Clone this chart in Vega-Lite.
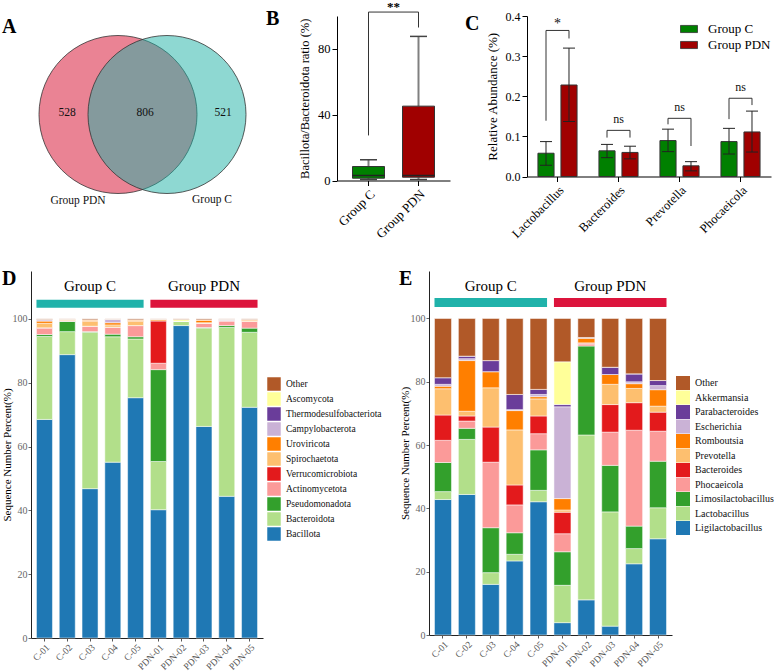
{
  "$schema": "https://vega.github.io/schema/vega-lite/v6.json",
  "padding": {"left": 1, "top": 0, "right": 0, "bottom": 0},
  "background": "white",
  "config": {
    "font": "Liberation Serif",
    "view": {"stroke": null},
    "axis": {"labelFont": "Liberation Serif", "titleFont": "Liberation Serif", "grid": false, "domainColor": "#000", "tickColor": "#000", "labelColor": "#000", "titleColor": "#000", "titleFontWeight": "normal"},
    "legend": {"labelFont": "Liberation Serif", "titleFont": "Liberation Serif"},
    "title": {"font": "Liberation Serif"},
    "text": {"font": "Liberation Serif"}
  },
  "resolve": {"scale": {"color": "independent", "fill": "independent"}, "legend": {"color": "independent"}},
  "spacing": 28,
  "vconcat": [
    {
      "hconcat": [
        {
          "width": 229, "height": 190,
          "title": {"text": "A", "anchor": "start", "frame": "group", "offset": 0, "dx": -29, "dy": 37, "baseline": "alphabetic", "fontSize": 20, "fontWeight": "bold", "color": "#000"},
          "data": {"values": [
            {"kind": "c", "set": "Group PDN", "x": 87, "y": 98.5},
            {"kind": "c", "set": "Group C", "x": 136, "y": 98.5},
            {"kind": "t", "x": 36, "y": 97.2, "txt": "528"},
            {"kind": "t", "x": 114, "y": 97.2, "txt": "806"},
            {"kind": "t", "x": 192, "y": 97.2, "txt": "521"},
            {"kind": "t", "x": 47, "y": 184.5, "txt": "Group PDN"},
            {"kind": "t", "x": 181, "y": 183.5, "txt": "Group C"}
          ]},
          "encoding": {
            "x": {"field": "x", "type": "quantitative", "scale": {"domain": [0, 229], "nice": false, "zero": false}, "axis": null},
            "y": {"field": "y", "type": "quantitative", "scale": {"domain": [0, 190], "nice": false, "zero": false, "reverse": true}, "axis": null}
          },
          "layer": [
            {
              "transform": [{"filter": "datum.kind == 'c'"}],
              "mark": {"type": "point", "shape": "circle", "filled": true, "size": 24964, "opacity": 1, "fillOpacity": 0.5, "stroke": "#333", "strokeWidth": 0.8, "strokeOpacity": 1},
              "encoding": {"fill": {"field": "set", "type": "nominal", "scale": {"domain": ["Group PDN", "Group C"], "range": ["#D50729", "#1DB1A5"]}, "legend": null}}
            },
            {
              "transform": [{"filter": "datum.kind == 't'"}],
              "mark": {"type": "text", "fontSize": 11.5, "baseline": "middle", "align": "center", "color": "#111"},
              "encoding": {"text": {"field": "txt"}}
            }
          ]
        },
        {
          "width": 113, "height": 164.5,
          "title": {"text": "B", "anchor": "start", "frame": "group", "offset": 0, "dx": -71, "dy": 44, "baseline": "alphabetic", "fontSize": 20, "fontWeight": "bold", "color": "#000"},
          "data": {"values": [
            {"g": "Group C", "mn": 0.6, "q1": 1.4, "med": 3.0, "q3": 8.5, "mx": 12.6},
            {"g": "Group PDN", "mn": 0.6, "q1": 2.0, "med": 3.0, "q3": 45.2, "mx": 87.6}
          ]},
          "encoding": {
            "x": {"field": "g", "type": "nominal", "sort": ["Group C", "Group PDN"], "scale": {"paddingInner": 0.36, "paddingOuter": 0.31}, "axis": {"title": null, "labelAngle": -45, "labelFontSize": 13, "tickSize": 5, "labelPadding": 2}}
          },
          "layer": [
            {
              "mark": {"type": "rule", "color": "#808080", "strokeWidth": 2},
              "encoding": {
                "y": {"field": "q3", "type": "quantitative", "title": "Bacillota/Bacteroidota ratio (%)", "scale": {"domain": [0, 100], "nice": false}, "axis": {"values": [0, 20, 40, 60, 80, 100], "labelFontSize": 12.5, "titleFontSize": 12.5, "tickSize": 5, "titlePadding": 6}},
                "y2": {"field": "mx"}
              }
            },
            {
              "mark": {"type": "rule", "color": "#808080", "strokeWidth": 2},
              "encoding": {"y": {"field": "mn", "type": "quantitative", "title": "Bacillota/Bacteroidota ratio (%)"}, "y2": {"field": "q1"}}
            },
            {
              "mark": {"type": "tick", "color": "#444", "thickness": 1.5, "size": 17, "opacity": 1},
              "encoding": {"y": {"field": "mx", "type": "quantitative", "title": "Bacillota/Bacteroidota ratio (%)"}}
            },
            {
              "mark": {"type": "tick", "color": "#444", "thickness": 1.5, "size": 17, "opacity": 1},
              "encoding": {"y": {"field": "mn", "type": "quantitative", "title": "Bacillota/Bacteroidota ratio (%)"}}
            },
            {
              "mark": {"type": "bar", "stroke": "#333", "strokeWidth": 1},
              "encoding": {
                "y": {"field": "q1", "type": "quantitative", "title": "Bacillota/Bacteroidota ratio (%)"},
                "y2": {"field": "q3"},
                "color": {"field": "g", "type": "nominal", "scale": {"domain": ["Group C", "Group PDN"], "range": ["#008000", "#A00000"]}, "legend": null}
              }
            },
            {
              "mark": {"type": "tick", "color": "#222", "thickness": 1.5, "size": 32, "opacity": 1},
              "encoding": {"y": {"field": "med", "type": "quantitative", "title": "Bacillota/Bacteroidota ratio (%)"}}
            },
            {
              "data": {"values": [
                {"g": "Group C", "a": 27.4, "b": 102.4},
                {"g": "Group PDN", "a": 93.0, "b": 102.4}
              ]},
              "mark": {"type": "rule", "color": "#333", "strokeWidth": 1},
              "encoding": {"y": {"field": "a", "type": "quantitative", "title": "Bacillota/Bacteroidota ratio (%)"}, "y2": {"field": "b"}}
            },
            {
              "data": {"values": [{"from": "Group C", "to": "Group PDN", "yy": 102.4}]},
              "mark": {"type": "rule", "color": "#333", "strokeWidth": 1},
              "encoding": {
                "x": {"field": "from", "type": "nominal"},
                "x2": {"field": "to"},
                "y": {"field": "yy", "type": "quantitative", "title": "Bacillota/Bacteroidota ratio (%)"}
              }
            },
            {
              "data": {"values": [{"from": "Group C", "yy": 103.2, "lab": "**"}]},
              "mark": {"type": "text", "fontSize": 13, "fontWeight": "bold", "dx": 25, "baseline": "alphabetic", "align": "center", "color": "#000"},
              "encoding": {
                "x": {"field": "from", "type": "nominal"},
                "y": {"field": "yy", "type": "quantitative", "title": "Bacillota/Bacteroidota ratio (%)"},
                "text": {"field": "lab"}
              }
            }
          ]
        },
        {
          "width": 244, "height": 160.5,
          "title": {"text": "C", "anchor": "start", "frame": "group", "offset": 0, "dx": -62, "dy": 40, "baseline": "alphabetic", "fontSize": 20, "fontWeight": "bold", "color": "#000"},
          "encoding": {
            "x": {"field": "genus", "type": "nominal", "sort": ["Lactobacillus", "Bacteroides", "Prevotella", "Phocaeicola"], "scale": {"paddingInner": 0.246, "paddingOuter": 0.123}, "axis": {"title": null, "labelAngle": -45, "labelFontSize": 12.5, "tickSize": 5, "labelPadding": 2}}
          },
          "layer": [
            {
              "data": {"name": "cbars", "values": [
                {"genus": "Lactobacillus", "group": "Group C", "mean": 0.058, "lo": 0.028, "hi": 0.087},
                {"genus": "Lactobacillus", "group": "Group PDN", "mean": 0.228, "lo": 0.137, "hi": 0.320},
                {"genus": "Bacteroides", "group": "Group C", "mean": 0.064, "lo": 0.047, "hi": 0.080},
                {"genus": "Bacteroides", "group": "Group PDN", "mean": 0.060, "lo": 0.044, "hi": 0.0755},
                {"genus": "Prevotella", "group": "Group C", "mean": 0.0896, "lo": 0.062, "hi": 0.118},
                {"genus": "Prevotella", "group": "Group PDN", "mean": 0.0266, "lo": 0.014, "hi": 0.037},
                {"genus": "Phocaeicola", "group": "Group C", "mean": 0.087, "lo": 0.056, "hi": 0.120},
                {"genus": "Phocaeicola", "group": "Group PDN", "mean": 0.111, "lo": 0.061, "hi": 0.163}
              ]},
              "mark": {"type": "bar", "stroke": "#333", "strokeWidth": 1},
              "encoding": {
                "xOffset": {"field": "group", "type": "nominal", "sort": ["Group C", "Group PDN"], "scale": {"paddingInner": 0.3, "paddingOuter": 0.15}},
                "y": {"field": "mean", "type": "quantitative", "title": "Relative Abundance (%)", "scale": {"domain": [0, 0.4], "nice": false}, "axis": {"values": [0, 0.1, 0.2, 0.3, 0.4], "format": ".1f", "labelFontSize": 12, "titleFontSize": 13, "tickSize": 5, "titlePadding": 6}},
                "color": {"field": "group", "type": "nominal", "scale": {"domain": ["Group C", "Group PDN"], "range": ["#008000", "#A00000"]}, "legend": {"orient": "none", "legendX": 153, "legendY": 4, "title": null, "symbolType": "M-1,-0.42H1V0.42H-1Z", "symbolSize": 289, "symbolStrokeColor": "#333", "symbolStrokeWidth": 0.8, "rowPadding": -1, "labelFontSize": 13, "labelOffset": 10, "labelColor": "#000", "padding": 0}}
              }
            },
            {
              "data": {"name": "cbars"},
              "mark": {"type": "rule", "color": "#222", "strokeWidth": 1},
              "encoding": {
                "xOffset": {"field": "group", "type": "nominal", "sort": ["Group C", "Group PDN"]},
                "y": {"field": "lo", "type": "quantitative", "title": "Relative Abundance (%)"},
                "y2": {"field": "hi"}
              }
            },
            {
              "data": {"name": "cbars"},
              "mark": {"type": "tick", "color": "#222", "thickness": 1, "size": 12, "opacity": 1},
              "encoding": {
                "xOffset": {"field": "group", "type": "nominal", "sort": ["Group C", "Group PDN"]},
                "y": {"field": "lo", "type": "quantitative", "title": "Relative Abundance (%)"}
              }
            },
            {
              "data": {"name": "cbars"},
              "mark": {"type": "tick", "color": "#222", "thickness": 1, "size": 12, "opacity": 1},
              "encoding": {
                "xOffset": {"field": "group", "type": "nominal", "sort": ["Group C", "Group PDN"]},
                "y": {"field": "hi", "type": "quantitative", "title": "Relative Abundance (%)"}
              }
            },
            {
              "data": {"values": [
                {"genus": "Lactobacillus", "group": "Group C", "a": 0.139, "b": 0.364},
                {"genus": "Lactobacillus", "group": "Group PDN", "a": 0.344, "b": 0.364},
                {"genus": "Bacteroides", "group": "Group C", "a": 0.097, "b": 0.115},
                {"genus": "Bacteroides", "group": "Group PDN", "a": 0.097, "b": 0.115},
                {"genus": "Prevotella", "group": "Group C", "a": 0.130, "b": 0.145},
                {"genus": "Prevotella", "group": "Group PDN", "a": 0.076, "b": 0.145},
                {"genus": "Phocaeicola", "group": "Group C", "a": 0.143, "b": 0.195},
                {"genus": "Phocaeicola", "group": "Group PDN", "a": 0.178, "b": 0.195}
              ]},
              "mark": {"type": "rule", "color": "#333", "strokeWidth": 1},
              "encoding": {
                "xOffset": {"field": "group", "type": "nominal", "sort": ["Group C", "Group PDN"]},
                "y": {"field": "a", "type": "quantitative", "title": "Relative Abundance (%)"},
                "y2": {"field": "b"}
              }
            },
            {
              "data": {"name": "sig", "values": [
                {"genus": "Lactobacillus", "top": 0.364, "ty": 0.371, "lab": "*"},
                {"genus": "Bacteroides", "top": 0.115, "ty": 0.133, "lab": "ns"},
                {"genus": "Prevotella", "top": 0.145, "ty": 0.163, "lab": "ns"},
                {"genus": "Phocaeicola", "top": 0.195, "ty": 0.2125, "lab": "ns"}
              ]},
              "mark": {"type": "tick", "color": "#333", "thickness": 1, "size": 23, "opacity": 1},
              "encoding": {"y": {"field": "top", "type": "quantitative", "title": "Relative Abundance (%)"}}
            },
            {
              "data": {"name": "sig"},
              "mark": {"type": "text", "fontSize": 12, "baseline": "alphabetic", "align": "center", "color": "#111"},
              "encoding": {
                "y": {"field": "ty", "type": "quantitative", "title": "Relative Abundance (%)"},
                "text": {"field": "lab"},
                "size": {"condition": {"test": "datum.lab == '*'", "value": 14}, "value": 12}
              }
            }
          ]
        }
      ],
      "spacing": 77,
      "bounds": "flush",
      "resolve": {"scale": {"color": "independent", "fill": "independent"}, "legend": {"color": "independent"}}
    },
    {
      "hconcat": [
        {
          "width": 232, "height": 367,
          "title": {"text": "D", "anchor": "start", "frame": "group", "offset": 0, "dx": -29, "dy": 34, "baseline": "alphabetic", "fontSize": 20, "fontWeight": "bold", "color": "#000"},
          "encoding": {
            "x": {"field": "s", "type": "nominal", "sort": ["C-01", "C-02", "C-03", "C-04", "C-05", "PDN-01", "PDN-02", "PDN-03", "PDN-04", "PDN-05"], "scale": {"paddingInner": 0.298, "paddingOuter": 0.24}, "axis": {"title": null, "labelAngle": -45, "labelFontSize": 9.5, "labelColor": "#555", "tickColor": "#555", "tickSize": 3, "domainColor": "#222", "labelPadding": 1}}
          },
          "layer": [
            {
              "data": {"values": [
                {"s": "C-01", "Bacillota": 68.5, "Bacteroidota": 26.0, "Pseudomonadota": 0.6, "Actinomycetota": 2.0, "Verrucomicrobiota": 0.1, "Spirochaetota": 1.4, "Uroviricota": 0.7, "Campylobacterota": 0.4, "Thermodesulfobacteriota": 0.1, "Ascomycota": 0, "Other": 0.2},
                {"s": "C-02", "Bacillota": 88.8, "Bacteroidota": 7.2, "Pseudomonadota": 3.2, "Actinomycetota": 0.2, "Verrucomicrobiota": 0, "Spirochaetota": 0.2, "Uroviricota": 0.3, "Campylobacterota": 0, "Thermodesulfobacteriota": 0, "Ascomycota": 0, "Other": 0.1},
                {"s": "C-03", "Bacillota": 46.8, "Bacteroidota": 49.0, "Pseudomonadota": 0.2, "Actinomycetota": 1.7, "Verrucomicrobiota": 0, "Spirochaetota": 1.5, "Uroviricota": 0.5, "Campylobacterota": 0, "Thermodesulfobacteriota": 0, "Ascomycota": 0, "Other": 0.3},
                {"s": "C-04", "Bacillota": 55.1, "Bacteroidota": 39.3, "Pseudomonadota": 0.8, "Actinomycetota": 2.2, "Verrucomicrobiota": 0, "Spirochaetota": 0.7, "Uroviricota": 0.7, "Campylobacterota": 1.1, "Thermodesulfobacteriota": 0, "Ascomycota": 0, "Other": 0.1},
                {"s": "C-05", "Bacillota": 75.3, "Bacteroidota": 18.4, "Pseudomonadota": 0.7, "Actinomycetota": 3.5, "Verrucomicrobiota": 0, "Spirochaetota": 1.3, "Uroviricota": 0.5, "Campylobacterota": 0, "Thermodesulfobacteriota": 0, "Ascomycota": 0, "Other": 0.3},
                {"s": "PDN-01", "Bacillota": 40.2, "Bacteroidota": 15.1, "Pseudomonadota": 28.8, "Actinomycetota": 2.0, "Verrucomicrobiota": 13.3, "Spirochaetota": 0, "Uroviricota": 0.5, "Campylobacterota": 0, "Thermodesulfobacteriota": 0, "Ascomycota": 0, "Other": 0.1},
                {"s": "PDN-02", "Bacillota": 97.9, "Bacteroidota": 1.3, "Pseudomonadota": 0, "Actinomycetota": 0.1, "Verrucomicrobiota": 0, "Spirochaetota": 0, "Uroviricota": 0, "Campylobacterota": 0, "Thermodesulfobacteriota": 0, "Ascomycota": 0.5, "Other": 0.2},
                {"s": "PDN-03", "Bacillota": 66.3, "Bacteroidota": 30.8, "Pseudomonadota": 0.2, "Actinomycetota": 1.3, "Verrucomicrobiota": 0, "Spirochaetota": 0.2, "Uroviricota": 0.9, "Campylobacterota": 0, "Thermodesulfobacteriota": 0, "Ascomycota": 0, "Other": 0.3},
                {"s": "PDN-04", "Bacillota": 44.4, "Bacteroidota": 52.9, "Pseudomonadota": 0.6, "Actinomycetota": 1.5, "Verrucomicrobiota": 0, "Spirochaetota": 0, "Uroviricota": 0.1, "Campylobacterota": 0.4, "Thermodesulfobacteriota": 0, "Ascomycota": 0, "Other": 0.1},
                {"s": "PDN-05", "Bacillota": 72.3, "Bacteroidota": 23.5, "Pseudomonadota": 1.3, "Actinomycetota": 2.1, "Verrucomicrobiota": 0, "Spirochaetota": 0.3, "Uroviricota": 0.3, "Campylobacterota": 0, "Thermodesulfobacteriota": 0, "Ascomycota": 0, "Other": 0.2}
              ]},
              "transform": [
                {"fold": ["Bacillota", "Bacteroidota", "Pseudomonadota", "Actinomycetota", "Verrucomicrobiota", "Spirochaetota", "Uroviricota", "Campylobacterota", "Thermodesulfobacteriota", "Ascomycota", "Other"], "as": ["taxon", "pct"]},
                {"calculate": "indexof(['Bacillota','Bacteroidota','Pseudomonadota','Actinomycetota','Verrucomicrobiota','Spirochaetota','Uroviricota','Campylobacterota','Thermodesulfobacteriota','Ascomycota','Other'], datum.taxon)", "as": "rk"}
              ],
              "mark": {"type": "bar", "stroke": "white", "strokeWidth": 0.5},
              "encoding": {
                "y": {"field": "pct", "type": "quantitative", "stack": "zero", "title": "Sequence Number Percent(%)", "scale": {"domain": [0, 115], "nice": false}, "axis": {"values": [0, 20, 40, 60, 80, 100], "labelFontSize": 10, "labelColor": "#666", "tickColor": "#666", "tickSize": 3, "domainColor": "#222", "titleFontSize": 11, "titlePadding": 0, "labelPadding": 1}},
                "color": {"field": "taxon", "type": "nominal", "scale": {"domain": ["Other", "Ascomycota", "Thermodesulfobacteriota", "Campylobacterota", "Uroviricota", "Spirochaetota", "Verrucomicrobiota", "Actinomycetota", "Pseudomonadota", "Bacteroidota", "Bacillota"], "range": ["#B15928", "#FFFF99", "#6A3D9A", "#CAB2D6", "#FF7F00", "#FDBF6F", "#E31A1C", "#FB9A99", "#33A02C", "#B2DF8A", "#1F78B4"]}, "legend": {"orient": "none", "legendX": 236, "legendY": 106, "title": null, "symbolType": "square", "symbolSize": 182, "symbolStrokeWidth": 0, "rowPadding": 1, "labelFontSize": 9.5, "labelOffset": 5, "labelColor": "#111", "padding": 0}},
                "order": {"field": "rk", "type": "quantitative"}
              }
            },
            {
              "data": {"values": [
                {"grp": "Group C", "st": "C-01", "en": "C-05", "mid": "C-03"},
                {"grp": "Group PDN", "st": "PDN-01", "en": "PDN-05", "mid": "PDN-03"}
              ]},
              "layer": [
                {
                  "mark": {"type": "rect"},
                  "encoding": {
                    "x": {"field": "st", "type": "nominal", "bandPosition": 0},
                    "x2": {"field": "en", "bandPosition": 1},
                    "y": {"datum": 103.5, "type": "quantitative"},
                    "y2": {"datum": 106.0},
                    "fill": {"field": "grp", "type": "nominal", "scale": {"domain": ["Group C", "Group PDN"], "range": ["#20B2AA", "#DC143C"]}, "legend": null}
                  }
                },
                {
                  "mark": {"type": "text", "fontSize": 15, "baseline": "alphabetic", "align": "center", "color": "#000"},
                  "encoding": {
                    "x": {"field": "mid", "type": "nominal"},
                    "y": {"datum": 108.8, "type": "quantitative"},
                    "text": {"field": "grp"}
                  }
                }
              ]
            }
          ]
        },
        {
          "width": 243, "height": 364,
          "title": {"text": "E", "anchor": "start", "frame": "group", "offset": 0, "dx": -30, "dy": 34, "baseline": "alphabetic", "fontSize": 20, "fontWeight": "bold", "color": "#000"},
          "encoding": {
            "x": {"field": "s", "type": "nominal", "sort": ["C-01", "C-02", "C-03", "C-04", "C-05", "PDN-01", "PDN-02", "PDN-03", "PDN-04", "PDN-05"], "scale": {"paddingInner": 0.289, "paddingOuter": 0.23}, "axis": {"title": null, "labelAngle": -45, "labelFontSize": 9.5, "labelColor": "#555", "tickColor": "#555", "tickSize": 3, "domainColor": "#222", "labelPadding": 1}}
          },
          "layer": [
            {
              "data": {"values": [
                {"s": "C-01", "Ligilactobacillus": 42.8, "Lactobacillus": 2.5, "Limosilactobacillus": 9.2, "Phocaeicola": 7.0, "Bacteroides": 8.0, "Prevotella": 8.3, "Romboutsia": 0.8, "Escherichia": 0.6, "Parabacteroides": 2.1, "Akkermansia": 0, "Other": 18.7},
                {"s": "C-02", "Ligilactobacillus": 44.4, "Lactobacillus": 17.4, "Limosilactobacillus": 3.5, "Phocaeicola": 2.3, "Bacteroides": 1.6, "Prevotella": 1.5, "Romboutsia": 16.0, "Escherichia": 0.6, "Parabacteroides": 0.8, "Akkermansia": 0, "Other": 11.9},
                {"s": "C-03", "Ligilactobacillus": 16.0, "Lactobacillus": 3.7, "Limosilactobacillus": 14.2, "Phocaeicola": 20.7, "Bacteroides": 11.1, "Prevotella": 12.4, "Romboutsia": 5.1, "Escherichia": 0, "Parabacteroides": 3.5, "Akkermansia": 0, "Other": 13.3},
                {"s": "C-04", "Ligilactobacillus": 23.4, "Lactobacillus": 2.1, "Limosilactobacillus": 6.8, "Phocaeicola": 8.8, "Bacteroides": 6.3, "Prevotella": 17.4, "Romboutsia": 6.1, "Escherichia": 0.3, "Parabacteroides": 4.8, "Akkermansia": 0, "Other": 24.0},
                {"s": "C-05", "Ligilactobacillus": 42.1, "Lactobacillus": 3.6, "Limosilactobacillus": 12.8, "Phocaeicola": 5.1, "Bacteroides": 5.6, "Prevotella": 5.4, "Romboutsia": 0.7, "Escherichia": 0.7, "Parabacteroides": 1.6, "Akkermansia": 0, "Other": 22.4},
                {"s": "PDN-01", "Ligilactobacillus": 3.9, "Lactobacillus": 11.8, "Limosilactobacillus": 10.6, "Phocaeicola": 5.7, "Bacteroides": 6.8, "Prevotella": 0.7, "Romboutsia": 3.6, "Escherichia": 29.0, "Parabacteroides": 0.7, "Akkermansia": 13.5, "Other": 13.7},
                {"s": "PDN-02", "Ligilactobacillus": 11.1, "Lactobacillus": 52.1, "Limosilactobacillus": 28.1, "Phocaeicola": 0.6, "Bacteroides": 0.3, "Prevotella": 0.1, "Romboutsia": 1.5, "Escherichia": 0, "Parabacteroides": 0.2, "Akkermansia": 0, "Other": 6.0},
                {"s": "PDN-03", "Ligilactobacillus": 2.8, "Lactobacillus": 36.1, "Limosilactobacillus": 14.7, "Phocaeicola": 10.5, "Bacteroides": 8.7, "Prevotella": 6.4, "Romboutsia": 3.1, "Escherichia": 0, "Parabacteroides": 2.3, "Akkermansia": 0, "Other": 15.4},
                {"s": "PDN-04", "Ligilactobacillus": 22.5, "Lactobacillus": 4.8, "Limosilactobacillus": 7.1, "Phocaeicola": 30.3, "Bacteroides": 8.7, "Prevotella": 4.5, "Romboutsia": 1.5, "Escherichia": 0.6, "Parabacteroides": 2.5, "Akkermansia": 0, "Other": 17.5},
                {"s": "PDN-05", "Ligilactobacillus": 30.4, "Lactobacillus": 9.8, "Limosilactobacillus": 14.7, "Phocaeicola": 9.5, "Bacteroides": 6.0, "Prevotella": 1.9, "Romboutsia": 5.2, "Escherichia": 1.3, "Parabacteroides": 1.6, "Akkermansia": 0, "Other": 19.6}
              ]},
              "transform": [
                {"fold": ["Ligilactobacillus", "Lactobacillus", "Limosilactobacillus", "Phocaeicola", "Bacteroides", "Prevotella", "Romboutsia", "Escherichia", "Parabacteroides", "Akkermansia", "Other"], "as": ["taxon", "pct"]},
                {"calculate": "indexof(['Ligilactobacillus','Lactobacillus','Limosilactobacillus','Phocaeicola','Bacteroides','Prevotella','Romboutsia','Escherichia','Parabacteroides','Akkermansia','Other'], datum.taxon)", "as": "rk"}
              ],
              "mark": {"type": "bar", "stroke": "white", "strokeWidth": 0.5},
              "encoding": {
                "y": {"field": "pct", "type": "quantitative", "stack": "zero", "title": "Sequence Number Percent(%)", "scale": {"domain": [0, 115], "nice": false}, "axis": {"values": [0, 20, 40, 60, 80, 100], "labelFontSize": 10, "labelColor": "#666", "tickColor": "#666", "tickSize": 3, "domainColor": "#222", "titleFontSize": 11, "titlePadding": 0, "labelPadding": 1}},
                "color": {"field": "taxon", "type": "nominal", "scale": {"domain": ["Other", "Akkermansia", "Parabacteroides", "Escherichia", "Romboutsia", "Prevotella", "Bacteroides", "Phocaeicola", "Limosilactobacillus", "Lactobacillus", "Ligilactobacillus"], "range": ["#B15928", "#FFFF99", "#6A3D9A", "#CAB2D6", "#FF7F00", "#FDBF6F", "#E31A1C", "#FB9A99", "#33A02C", "#B2DF8A", "#1F78B4"]}, "legend": {"orient": "none", "legendX": 247, "legendY": 105, "title": null, "symbolType": "square", "symbolSize": 196, "symbolStrokeWidth": 0, "rowPadding": 0.5, "labelFontSize": 10, "labelOffset": 5, "labelColor": "#111", "padding": 0}},
                "order": {"field": "rk", "type": "quantitative"}
              }
            },
            {
              "data": {"values": [
                {"grp": "Group C", "st": "C-01", "en": "C-05", "mid": "C-03"},
                {"grp": "Group PDN", "st": "PDN-01", "en": "PDN-05", "mid": "PDN-03"}
              ]},
              "layer": [
                {
                  "mark": {"type": "rect"},
                  "encoding": {
                    "x": {"field": "st", "type": "nominal", "bandPosition": 0},
                    "x2": {"field": "en", "bandPosition": 1},
                    "y": {"datum": 103.6, "type": "quantitative"},
                    "y2": {"datum": 106.5},
                    "fill": {"field": "grp", "type": "nominal", "scale": {"domain": ["Group C", "Group PDN"], "range": ["#20B2AA", "#DC143C"]}, "legend": null}
                  }
                },
                {
                  "mark": {"type": "text", "fontSize": 15, "baseline": "alphabetic", "align": "center", "color": "#000"},
                  "encoding": {
                    "x": {"field": "mid", "type": "nominal"},
                    "y": {"datum": 108.8, "type": "quantitative"},
                    "text": {"field": "grp"}
                  }
                }
              ]
            }
          ]
        }
      ],
      "spacing": 166,
      "bounds": "flush",
      "resolve": {"scale": {"color": "independent", "fill": "independent"}, "legend": {"color": "independent"}}
    }
  ]
}
